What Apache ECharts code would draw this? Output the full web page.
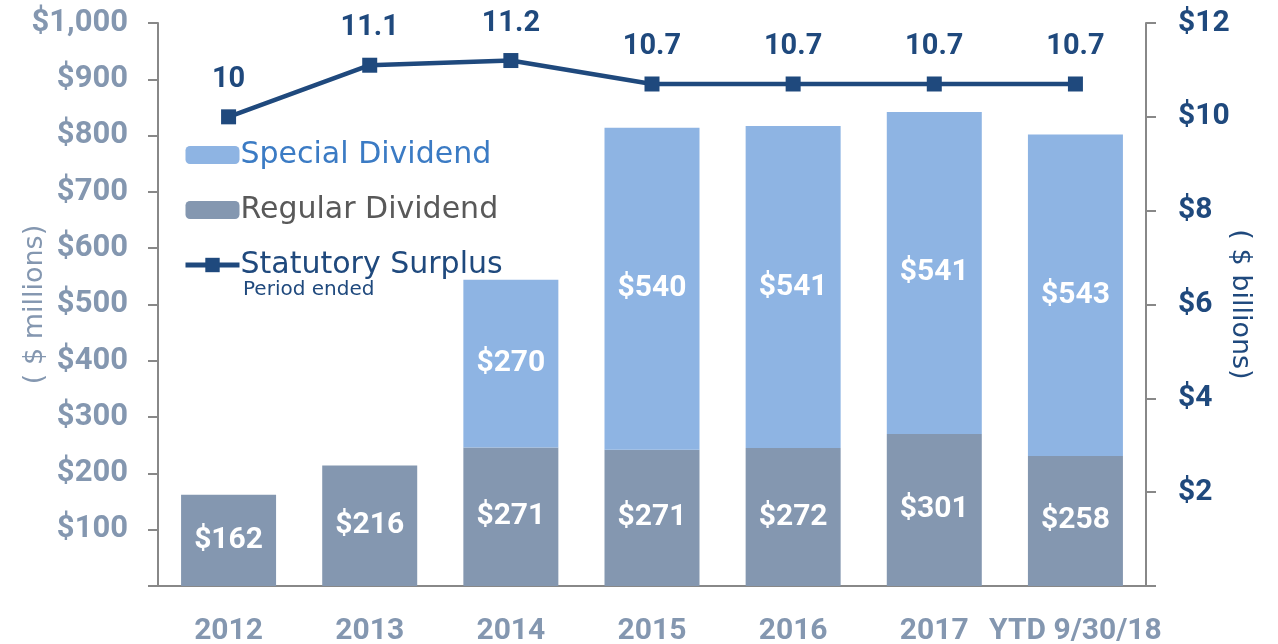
<!DOCTYPE html>
<html>
<head>
<meta charset="utf-8">
<script src="https://cdn.jsdelivr.net/npm/echarts@6/dist/echarts.min.js"></script>
<style>
    html, body {margin: 0; padding: 0; background: #fff;}
    #chart {width: 1278px; height: 644px;}
</style>
</head>
<body>
<div id="chart"></div>
<script>
// categories along the bottom
const categories = ['2012', '2013', '2014', '2015', '2016', '2017', 'YTD 9/30/18'];
// bar heights as drawn in the picture ($ millions)
const regularBar = [162, 214, 246, 242, 245, 270, 231];
const specialBar = [0, 0, 298, 572, 572, 572, 571];
// labels printed on the bars
const regularLabels = [162, 216, 271, 271, 272, 301, 258];
const specialLabels = [null, null, 270, 540, 541, 541, 543];
// statutory surplus ($ billions)
const surplus = [10, 11.1, 11.2, 10.7, 10.7, 10.7, 10.7];

const navy = '#1f497d';
const slate = '#8497b0';
const lightBlue = '#8eb4e3';
const numFont = 'Roboto';

const chartDom = document.getElementById('chart');
const myChart = echarts.init(chartDom);

const option = {
    animation: false,
    grid: {
        left: 158,
        right: 132,
        top: 23,
        bottom: 58,
        outerBoundsMode: 'none'
    },
    legend: {
        orient: 'vertical',
        left: 178,
        top: 135,
        itemWidth: 54,
        itemHeight: 18,
        itemGap: 25,
        textStyle: {
            fontFamily: 'DejaVu Sans',
            fontSize: 30,
            lineHeight: 30,
            padding: [0, 0, 0, -4]
        },
        data: [
            {name: 'Special Dividend', textStyle: {color: '#3b7bc4'}},
            {name: 'Regular Dividend', textStyle: {color: '#595959'}},
            {name: 'Statutory Surplus', textStyle: {color: navy}, lineStyle: {width: 5}}
        ]
    },
    graphic: [
        {
            type: 'text',
            left: 243,
            top: 280,
            style: {
                text: 'Period ended',
                fill: navy,
                font: '20px "DejaVu Sans"'
            }
        }
    ],
    xAxis: {
        type: 'category',
        data: categories,
        axisTick: {show: false},
        axisLine: {lineStyle: {color: '#888', width: 2}},
        axisLabel: {
            interval: 0,
            color: slate,
            fontFamily: numFont,
            fontWeight: 'bold',
            fontSize: 30,
            margin: 30
        }
    },
    yAxis: [
        {
            type: 'value',
            min: 0,
            max: 1000,
            interval: 100,
            name: '( $ millions)',
            nameLocation: 'middle',
            nameGap: 110,
            nameMoveOverlap: false,
            nameTextStyle: {color: slate, fontFamily: 'DejaVu Sans', fontSize: 27},
            splitLine: {show: false},
            axisLine: {show: true, lineStyle: {color: '#888', width: 2}},
            axisTick: {show: true, length: 10, lineStyle: {color: '#888', width: 2}},
            axisLabel: {
                color: slate,
                fontFamily: numFont,
                fontWeight: 'bold',
                fontSize: 31,
                margin: 30,
                formatter: (v) => v === 0 ? '' : '$' + v.toLocaleString('en-US')
            }
        },
        {
            type: 'value',
            min: 0,
            max: 12,
            interval: 2,
            name: '( $ billions)',
            nameLocation: 'middle',
            nameGap: 81,
            nameRotate: -90,
            nameMoveOverlap: false,
            nameTextStyle: {color: navy, fontFamily: 'DejaVu Sans', fontSize: 27},
            splitLine: {show: false},
            axisLine: {show: true, lineStyle: {color: '#888', width: 2}},
            axisTick: {show: true, length: 10, lineStyle: {color: '#888', width: 2}},
            axisLabel: {
                color: navy,
                fontFamily: numFont,
                fontWeight: 'bold',
                fontSize: 30,
                margin: 32,
                formatter: (v) => v === 0 ? '' : '$' + v
            }
        }
    ],
    series: [
        {
            name: 'Regular Dividend',
            type: 'bar',
            stack: 'div',
            barWidth: 95,
            itemStyle: {color: slate},
            data: regularBar,
            label: {
                show: true,
                position: 'inside',
                color: '#fff',
                fontFamily: numFont,
                fontWeight: 'bold',
                fontSize: 30,
                formatter: (p) => '$' + regularLabels[p.dataIndex]
            }
        },
        {
            name: 'Special Dividend',
            type: 'bar',
            stack: 'div',
            barWidth: 95,
            itemStyle: {color: lightBlue},
            data: specialBar,
            label: {
                show: true,
                position: 'inside',
                color: '#fff',
                fontFamily: numFont,
                fontWeight: 'bold',
                fontSize: 30,
                formatter: (p) => specialLabels[p.dataIndex] == null ? '' : '$' + specialLabels[p.dataIndex]
            }
        },
        {
            name: 'Statutory Surplus',
            type: 'line',
            yAxisIndex: 1,
            z: 5,
            symbol: 'rect',
            symbolSize: 15,
            lineStyle: {color: navy, width: 4.5},
            itemStyle: {color: navy},
            data: surplus,
            label: {
                show: true,
                position: 'top',
                distance: 15,
                color: navy,
                fontFamily: numFont,
                fontWeight: 'bold',
                fontSize: 29
            }
        }
    ]
};

option && myChart.setOption(option);

window.addEventListener('resize', function () {
    myChart.resize();
});
</script>
</body>
</html>
